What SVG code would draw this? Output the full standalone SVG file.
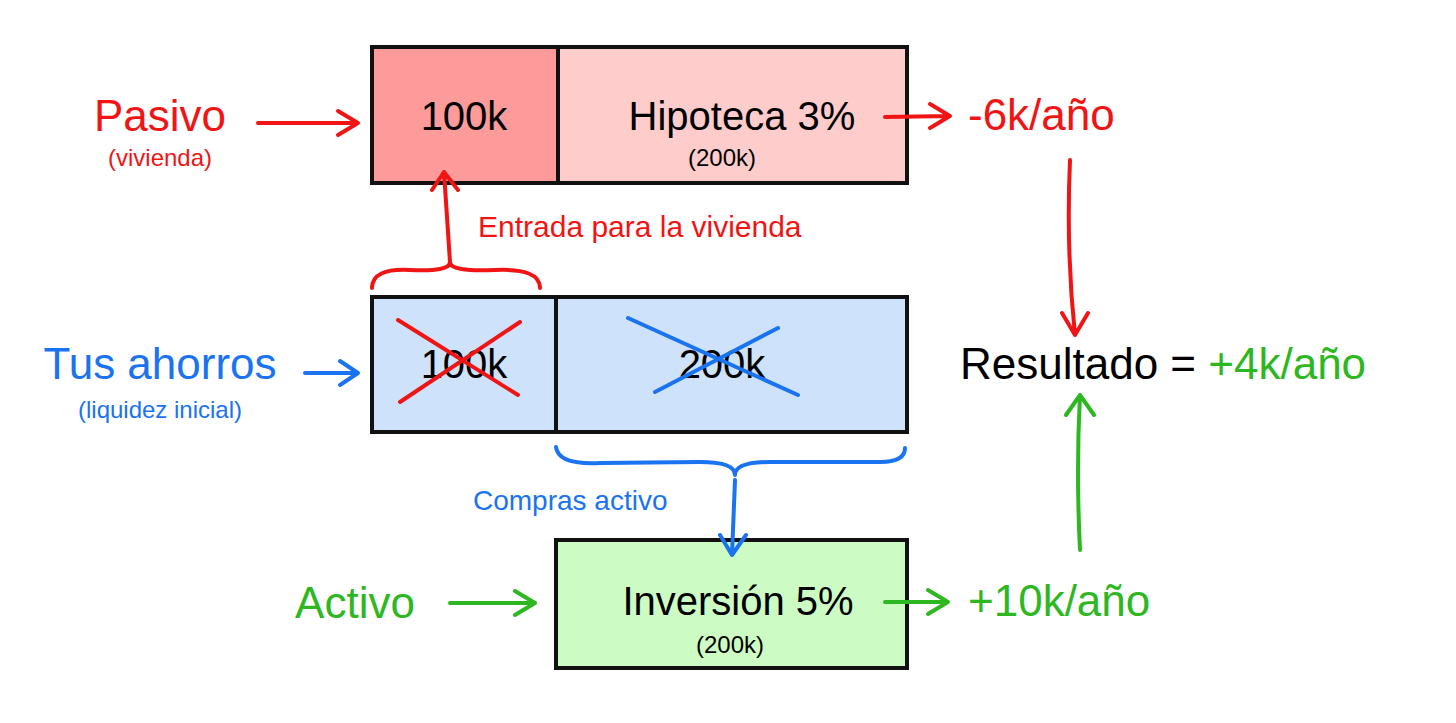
<svg xmlns="http://www.w3.org/2000/svg" width="1456" height="723" viewBox="0 0 1456 723">
<style>
.b{stroke:#111;stroke-width:4}
text{font-family:"Liberation Sans",Arial,sans-serif}
.r{fill:#f01414}.bl{fill:#1a73f0}.g{fill:#2db821}
.lr{stroke:#f01414;stroke-width:4;fill:none;stroke-linecap:round;stroke-linejoin:round}
.lb{stroke:#1a73f0;stroke-width:4;fill:none;stroke-linecap:round;stroke-linejoin:round}
.lg{stroke:#2db821;stroke-width:4;fill:none;stroke-linecap:round;stroke-linejoin:round}
</style>
<rect width="1456" height="723" fill="#fff"/>
<g id="pasivo"><text x="160" y="131" font-size="44" text-anchor="middle" class="r">Pasivo</text><text x="160" y="166" font-size="24" text-anchor="middle" class="r">(vivienda)</text></g>
<g id="entrada100k"><rect x="372" y="47" width="186" height="136" fill="#fd9a9a" class="b"/><text x="464" y="130" font-size="40" text-anchor="middle">100k</text></g>
<g id="hipoteca"><rect x="558" y="47" width="349" height="136" fill="#ffcccc" class="b"/><text x="742" y="130" font-size="40" text-anchor="middle">Hipoteca 3%</text><text x="722" y="166" font-size="24" text-anchor="middle">(200k)</text></g>
<g id="menos6k"><text x="968" y="130" font-size="44" class="r">-6k/año</text></g>
<g id="entradaLabel"><text x="478" y="237" font-size="30" class="r">Entrada para la vivienda</text></g>
<g id="ahorros"><text x="160" y="379" font-size="44" text-anchor="middle" class="bl">Tus ahorros</text><text x="160" y="418" font-size="24" text-anchor="middle" class="bl">(liquidez inicial)</text></g>
<g id="ahorro100k"><rect x="372" y="297" width="184" height="135" fill="#cfe2fb" class="b"/><text x="464" y="378" font-size="40" text-anchor="middle">100k</text></g>
<g id="ahorro200k"><rect x="556" y="297" width="351" height="135" fill="#cfe2fb" class="b"/><text x="722" y="378" font-size="40" text-anchor="middle">200k</text></g>
<g id="resultado"><text x="960" y="379" font-size="44">Resultado = <tspan class="g">+4k/año</tspan></text></g>
<g id="comprasLabel"><text x="473" y="510" font-size="28" class="bl">Compras activo</text></g>
<g id="activo"><text x="355" y="618" font-size="44" text-anchor="middle" class="g">Activo</text></g>
<g id="inversion"><rect x="556" y="540" width="351" height="128" fill="#ccfcc4" class="b"/><text x="738" y="615" font-size="40" text-anchor="middle">Inversión 5%</text><text x="730" y="653" font-size="24" text-anchor="middle">(200k)</text></g>
<g id="mas10k"><text x="968" y="616" font-size="44" class="g">+10k/año</text></g>
<g id="connectors">
<path class="lr" d="M258 123 L358 123 M338 111 L358 123 L338 135"/>
<path class="lr" d="M885 117 L950 116 M930 104 L950 116 L930 128"/>
<path class="lr" d="M372 288 Q372 268 410 270 Q450 272 450 262 Q450 272 495 270 Q540 268 540 288 M450 262 L444 172 M432 190 L444 172 L458 190"/>
<path class="lr" d="M398 320 L518 395 M400 402 L520 322"/>
<path class="lb" d="M305 373 L358 373 M340 361 L358 373 L340 385"/>
<path class="lb" d="M628 318 L798 395 M655 392 L778 328"/>
<path class="lr" d="M1070 160 Q1066 250 1075 335 M1062 313 L1075 335 L1088 313"/>
<path class="lg" d="M1080 550 Q1076 470 1080 395 M1066 415 L1080 395 L1094 415"/>
<path class="lb" d="M556 447 Q558 465 600 463 L700 462 Q735 462 735 475 Q735 462 770 462 L880 462 Q905 462 905 448 M735 480 L732 555 M720 535 L732 555 L746 535"/>
<path class="lg" d="M450 603 L535 603 M515 591 L535 603 L515 615"/>
<path class="lg" d="M885 602 L948 602 M928 590 L948 602 L928 614"/>
</g>
</svg>
